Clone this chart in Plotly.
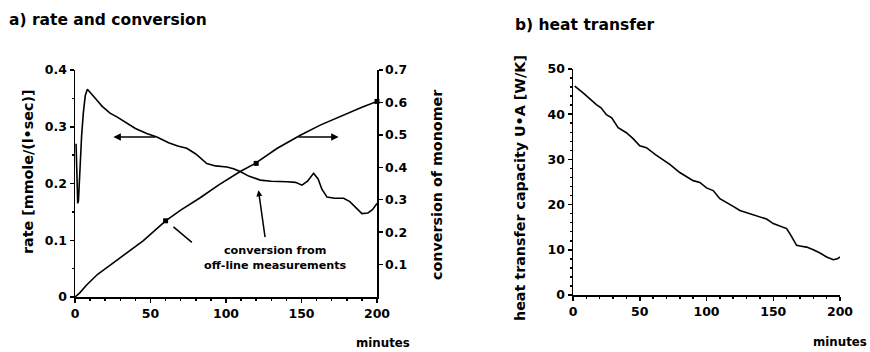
import plotly.graph_objects as go

# ---- data ----
rate_t = [0.7, 1.2, 1.8, 2.3, 3.3, 4.4, 5.5, 6.8, 8.2, 10, 14.4, 18, 23.2, 28, 34.3, 40, 47.5, 54.2,
          62, 68, 74, 80, 87.3, 93, 100.6, 105, 109.4, 115, 122.7, 130, 140.4, 146, 150.3, 154,
          158, 161, 163.5, 166.9, 172, 177.9, 182, 186, 190, 194, 197, 200]
rate_v = [0.27, 0.23, 0.165, 0.17, 0.241, 0.285, 0.324, 0.355, 0.366, 0.360, 0.347, 0.336, 0.324, 0.317,
          0.306, 0.297, 0.288, 0.282, 0.272, 0.266, 0.262, 0.252, 0.235, 0.231, 0.229, 0.226, 0.221,
          0.213, 0.206, 0.204, 0.203, 0.202, 0.197, 0.204, 0.218, 0.208, 0.19, 0.176, 0.174, 0.174,
          0.168, 0.157, 0.147, 0.148, 0.154, 0.165]

conv_t = [0, 3, 7.7, 15, 27.6, 36, 45.3, 60, 70, 82.9, 95, 109.4, 119.4, 133.7, 149.2, 162.4,
          172, 182.3, 190, 200]
conv_v = [0.0, 0.012, 0.037, 0.07, 0.113, 0.143, 0.174, 0.235, 0.268, 0.306, 0.345, 0.387, 0.412,
          0.458, 0.499, 0.53, 0.55, 0.57, 0.585, 0.603]

offline_t = [60, 120, 200]
offline_v = [0.235, 0.412, 0.603]

ua_t = [1.3, 8, 17.5, 21, 25, 29, 33.8, 40, 45, 50, 55, 62, 72.5, 80, 90, 95, 100, 105, 110, 115,
        120, 125, 132, 140, 145, 150, 155, 160, 163, 167.5, 171, 175, 180, 185, 190, 195, 198, 200]
ua_v = [46.2, 44.6, 42.1, 41.4, 39.9, 39.2, 37.0, 35.9, 34.6, 33.0, 32.6, 31.0, 28.9, 27.1, 25.3,
        24.9, 23.7, 23.1, 21.3, 20.5, 19.6, 18.7, 18.0, 17.2, 16.8, 15.8, 15.2, 14.7, 13.3, 11.0,
        10.8, 10.6, 10.0, 9.3, 8.4, 7.8, 8.0, 8.4]

x_ticks = [0, 50, 100, 150, 200]
x_ticktext = ["0", "50", "100", "150", "200"]
rate_ticks = [0, 0.1, 0.2, 0.3, 0.4]
rate_ticktext = ["0", "0.1", "0.2", "0.3", "0.4"]
conv_ticks = [0.1, 0.2, 0.3, 0.4, 0.5, 0.6, 0.7]
conv_ticktext = ["0.1", "0.2", "0.3", "0.4", "0.5", "0.6", "0.7"]
ua_ticks = [0, 10, 20, 30, 40, 50]
ua_ticktext = ["0", "10", "20", "30", "40", "50"]

FONT = "DejaVu Sans, Liberation Sans, sans-serif"
tickfont = dict(family=FONT, size=12.5, color="black")

def b(lst):
    return ["<b>%s</b>" % s for s in lst]

fig = go.Figure()
line = dict(color="black", width=1.6)

fig.add_trace(go.Scatter(x=rate_t, y=rate_v, mode="lines", line=line, xaxis="x", yaxis="y"))
fig.add_trace(go.Scatter(x=conv_t, y=conv_v, mode="lines", line=line, xaxis="x", yaxis="y2"))
fig.add_trace(go.Scatter(x=offline_t, y=offline_v, mode="markers",
                         marker=dict(symbol="square", size=5, color="black"),
                         xaxis="x", yaxis="y2", cliponaxis=False))
fig.add_trace(go.Scatter(x=ua_t, y=ua_v, mode="lines", line=line, xaxis="x3", yaxis="y3"))

W, H = 870, 352
def px(x0, x1):
    return [x0 / W, x1 / W]
def py(ytop, ybot):
    return [1 - ybot / H, 1 - ytop / H]

axcommon = dict(showline=True, linecolor="black", linewidth=1.5, showgrid=False, zeroline=False,
                ticks="outside", ticklen=4, tickwidth=1.5, tickcolor="black", tickfont=tickfont,
                automargin=False)

fig.update_layout(
    template="none",
    width=W, height=H, margin=dict(l=0, r=0, t=0, b=0),
    paper_bgcolor="white", plot_bgcolor="white", showlegend=False,
    xaxis=dict(domain=px(75, 377), range=[0, 200], tickvals=x_ticks, ticktext=b(x_ticktext),
               anchor="y",
               minor=dict(dtick=10, ticks="outside", ticklen=2, tickcolor="black"), **axcommon),
    yaxis=dict(domain=py(70, 297), range=[0, 0.4], tickvals=rate_ticks, ticktext=b(rate_ticktext),
               anchor="x", minor=dict(dtick=0.05, ticks="outside", ticklen=2, tickcolor="black"),
               **axcommon),
    yaxis2=dict(overlaying="y", side="right", range=[0, 0.7], tickvals=conv_ticks,
                ticktext=b(conv_ticktext), anchor="x", **axcommon),
    xaxis3=dict(domain=px(573, 840), range=[0, 200], tickvals=x_ticks, ticktext=b(x_ticktext),
                anchor="y3",
                minor=dict(dtick=10, ticks="outside", ticklen=2, tickcolor="black"), **axcommon),
    yaxis3=dict(domain=py(69, 295), range=[0, 50], tickvals=ua_ticks, ticktext=b(ua_ticktext),
                anchor="x3",
                minor=dict(dtick=2, ticks="outside", ticklen=2, tickcolor="black"), **axcommon),
)

ann = []
def txt(x, y, s, size=13, angle=0, xanchor="left", yanchor="middle"):
    ann.append(dict(xref="paper", yref="paper", x=x / W, y=1 - y / H,
                    text="<b>%s</b>" % s,
                    showarrow=False, textangle=angle, xanchor=xanchor, yanchor=yanchor,
                    font=dict(family=FONT, size=size, color="black")))

txt(7, 20, "a) rate and conversion", size=15.5)
txt(513, 25, "b) heat transfer", size=15.5)
txt(28, 172, "rate [mmole/(l•sec)]", size=14.3, angle=-90, xanchor="center")
txt(437, 185, "conversion of monomer", size=14.3, angle=-90, xanchor="center")
txt(520, 188, "heat transfer capacity U•A [W/K]", size=14.3, angle=-90, xanchor="center")
txt(412, 343, "minutes", size=11.8, xanchor="right")
txt(869, 342, "minutes", size=11.8, xanchor="right")
txt(202, 258, "conversion from<br>off-line measurements", size=11.2)

# arrows (data coordinates)
def arrow(x_head, y_head, x_tail, y_tail, yref="y", head=2, size=1.0):
    ann.append(dict(xref="x", yref=yref, x=x_head, y=y_head, axref="x", ayref=yref,
                    ax=x_tail, ay=y_tail, text="", showarrow=True, arrowhead=head,
                    arrowsize=size, arrowwidth=1.5, arrowcolor="black"))

arrow(25.4, 0.282, 54.2, 0.282)
arrow(174.6, 0.282, 147, 0.282)
arrow(65.2, 0.1235, 78.4, 0.094, head=0)
arrow(121.5, 0.188, 126, 0.103, head=2, size=0.8)

fig.update_layout(annotations=ann)
fig.write_html(
    "out.html",
    config={"displayModeBar": False, "staticPlot": True},
    post_script="document.body.style.margin='0';document.body.style.overflow='hidden';"
                "document.documentElement.style.overflow='hidden';",
)
